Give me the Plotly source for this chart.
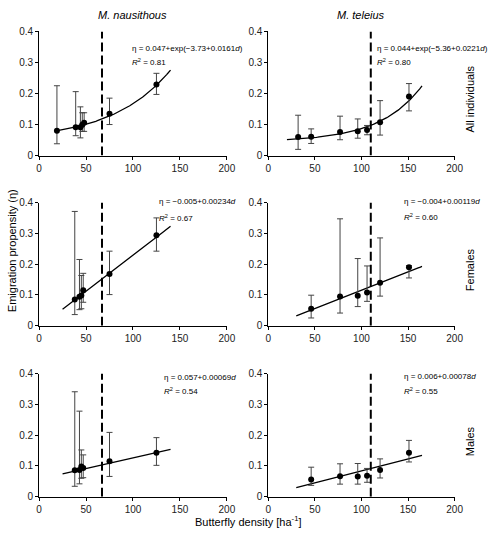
import numpy as np
import plotly.graph_objects as go

W, H = 488, 536
FONT = "Arial, 'Liberation Sans', sans-serif"

# ---- data ----
species = ["M. nausithous", "M. teleius"]
groups = ["All individuals", "Females", "Males"]

naus_all_d = [19, 39, 44, 46, 48, 75, 125]
naus_all_eta = [0.080, 0.091, 0.091, 0.099, 0.106, 0.135, 0.229]
naus_all_hi = [0.225, 0.206, 0.157, 0.138, 0.138, 0.185, 0.265]
naus_all_lo = [0.038, 0.064, 0.057, 0.078, 0.078, 0.100, 0.197]

naus_fem_d = [38, 43, 45, 47, 75, 125]
naus_fem_eta = [0.085, 0.094, 0.098, 0.115, 0.168, 0.294]
naus_fem_hi = [0.371, 0.215, 0.163, 0.170, 0.242, 0.350]
naus_fem_lo = [0.036, 0.052, 0.055, 0.076, 0.101, 0.242]

naus_mal_d = [38, 43, 45, 47, 75, 125]
naus_mal_eta = [0.086, 0.087, 0.098, 0.093, 0.115, 0.143]
naus_mal_hi = [0.341, 0.278, 0.152, 0.136, 0.209, 0.192]
naus_mal_lo = [0.034, 0.042, 0.060, 0.062, 0.066, 0.102]

tel_all_d = [32, 46, 77, 96, 106, 120, 151]
tel_all_eta = [0.060, 0.061, 0.076, 0.078, 0.082, 0.107, 0.190]
tel_all_hi = [0.130, 0.086, 0.127, 0.118, 0.097, 0.177, 0.232]
tel_all_lo = [0.020, 0.039, 0.051, 0.056, 0.067, 0.066, 0.144]

tel_fem_d = [46, 77, 96, 106, 120, 151]
tel_fem_eta = [0.055, 0.095, 0.097, 0.108, 0.139, 0.190]
tel_fem_hi = [0.099, 0.347, 0.218, 0.194, 0.285, 0.195]
tel_fem_lo = [0.025, 0.041, 0.062, 0.079, 0.096, 0.155]

tel_mal_d = [46, 77, 96, 106, 120, 151]
tel_mal_eta = [0.056, 0.067, 0.066, 0.068, 0.087, 0.143]
tel_mal_hi = [0.096, 0.107, 0.108, 0.092, 0.123, 0.183]
tel_mal_lo = [0.037, 0.041, 0.041, 0.047, 0.061, 0.113]

# fitted models as printed: (kind, a, b, c, d_from, d_to)
fit_naus = [("exp", 0.047, -3.73, 0.0161, 17, 140),
            ("lin", -0.005, 0.00234, None, 25, 140),
            ("lin", 0.057, 0.00069, None, 25, 140)]
fit_tel = [("exp", 0.044, -5.36, 0.0221, 20, 165),
           ("lin", -0.004, 0.00119, None, 30, 165),
           ("lin", 0.006, 0.00078, None, 30, 165)]
eq_naus = ["η = 0.047+exp(−3.73+0.0161<i>d</i>)", "η = −0.005+0.00234<i>d</i>", "η = 0.057+0.00069<i>d</i>"]
eq_tel = ["η = 0.044+exp(−5.36+0.0221<i>d</i>)", "η = −0.004+0.00119<i>d</i>", "η = 0.006+0.00078<i>d</i>"]
r2_naus = ["0.81", "0.67", "0.54"]
r2_tel = ["0.80", "0.60", "0.55"]
threshold = [67, 110]

x_ticks = [0, 50, 100, 150, 200]
y_ticks = [0, 0.1, 0.2, 0.3, 0.4]
y_ticklabels = ["0", "0.1", "0.2", "0.3", "0.4"]

panels = {
    (0, 0): (naus_all_d, naus_all_eta, naus_all_hi, naus_all_lo),
    (1, 0): (naus_fem_d, naus_fem_eta, naus_fem_hi, naus_fem_lo),
    (2, 0): (naus_mal_d, naus_mal_eta, naus_mal_hi, naus_mal_lo),
    (0, 1): (tel_all_d, tel_all_eta, tel_all_hi, tel_all_lo),
    (1, 1): (tel_fem_d, tel_fem_eta, tel_fem_hi, tel_fem_lo),
    (2, 1): (tel_mal_d, tel_mal_eta, tel_mal_hi, tel_mal_lo),
}
fits = {(r, 0): fit_naus[r] for r in range(3)}
fits.update({(r, 1): fit_tel[r] for r in range(3)})

# ---- layout geometry (pixels) ----
col_px = [(37, 229.5), (272, 463)]
row_px = [(26, 153), (201, 327), (376, 502)]

fig = go.Figure()
layout = dict(width=W, height=H, margin=dict(l=0, r=0, t=0, b=0),
              plot_bgcolor="white", paper_bgcolor="white", showlegend=False,
              font=dict(family=FONT, size=10, color="black"))
shapes = []
annotations = []

for r in range(3):
    for c in range(2):
        k = r * 2 + c + 1
        xa = "xaxis" if k == 1 else f"xaxis{k}"
        ya = "yaxis" if k == 1 else f"yaxis{k}"
        xr = "x" if k == 1 else f"x{k}"
        yr = "y" if k == 1 else f"y{k}"
        x0, x1 = col_px[c]
        y0, y1 = row_px[r]
        common = dict(showgrid=False, zeroline=False, showline=True, linecolor="black",
                      linewidth=1, ticks="outside", ticklen=3, tickwidth=1, tickcolor="black",
                      tickfont=dict(family=FONT, size=10, color="#222222"))
        layout[xa] = dict(domain=[x0 / W, x1 / W], range=[0, 200], tickvals=x_ticks,
                          anchor=yr, **common)
        layout[ya] = dict(domain=[1 - y1 / H, 1 - y0 / H], range=[0, 0.4], tickvals=y_ticks,
                          ticktext=y_ticklabels, anchor=xr, **common)

        d, eta, hi, lo = panels[(r, c)]
        kind, a, b, cc, dfrom, dto = fits[(r, c)]
        dd = np.linspace(dfrom, dto, 120)
        if kind == "exp":
            yy = a + np.exp(b + cc * dd)
        else:
            yy = a + b * dd
        fig.add_trace(go.Scatter(x=dd, y=yy, mode="lines", line=dict(color="black", width=1.3),
                                 xaxis=xr, yaxis=yr, hoverinfo="skip"))
        eta_a = np.array(eta)
        fig.add_trace(go.Scatter(
            x=d, y=eta, mode="markers", xaxis=xr, yaxis=yr,
            marker=dict(color="black", size=6),
            error_y=dict(type="data", symmetric=False,
                         array=np.array(hi) - eta_a, arrayminus=eta_a - np.array(lo),
                         color="#444444", thickness=1, width=3)))
        shapes.append(dict(type="line", xref=xr, yref=yr, x0=threshold[c], x1=threshold[c],
                           y0=0, y1=0.4, line=dict(color="black", width=2, dash="9px,4px")))

# equations
eq_pos = {
    (0, 0): (130, 43, 57), (1, 0): (158, 200, 217), (2, 0): (163, 380, 394),
    (0, 1): (381, 43, 57), (1, 1): (409, 200, 216), (2, 1): (409, 379, 394),
}
for (r, c), (px, py1, py2) in eq_pos.items():
    eq = eq_naus[r] if c == 0 else eq_tel[r]
    r2 = r2_naus[r] if c == 0 else r2_tel[r]
    annotations.append(dict(text=eq, x=px / W, y=1 - py1 / H, xref="paper", yref="paper",
                            xanchor="left", yanchor="middle", showarrow=False,
                            font=dict(family=FONT, size=8, color="black")))
    annotations.append(dict(text=f"<i>R</i><sup>2</sup> = {r2}", x=px / W, y=1 - py2 / H,
                            xref="paper", yref="paper", xanchor="left", yanchor="middle",
                            showarrow=False, font=dict(family=FONT, size=8, color="black")))

# column titles
for c in range(2):
    x0, x1 = col_px[c]
    annotations.append(dict(text=f"<i>{species[c]}</i>", x=(x0 + x1) / 2 / W, y=1 - 9 / H,
                            xref="paper", yref="paper", xanchor="center", yanchor="middle",
                            showarrow=False, font=dict(family=FONT, size=11, color="black")))
# row labels
for r in range(3):
    y0, y1 = row_px[r]
    annotations.append(dict(text=groups[r], x=479 / W, y=1 - ((y0 + y1) / 2 + 6) / H,
                            xref="paper", yref="paper", xanchor="center", yanchor="middle",
                            textangle=-90, showarrow=False,
                            font=dict(family=FONT, size=11, color="black")))
# axis titles
annotations.append(dict(text="Butterfly density [ha<sup>-1</sup>]", x=252 / W, y=1 - 527 / H,
                        xref="paper", yref="paper", xanchor="center", yanchor="middle",
                        showarrow=False, font=dict(family=FONT, size=11, color="black")))
annotations.append(dict(text="Emigration propensity (η)", x=10 / W, y=1 - 250 / H,
                        xref="paper", yref="paper", xanchor="center", yanchor="middle",
                        textangle=-90, showarrow=False,
                        font=dict(family=FONT, size=11, color="black")))

layout["shapes"] = shapes
layout["annotations"] = annotations
fig.update_layout(**layout)
fig.write_html("out.html", config={"displayModeBar": False},
               post_script="document.body.style.margin='0';document.body.style.overflow='hidden';")
